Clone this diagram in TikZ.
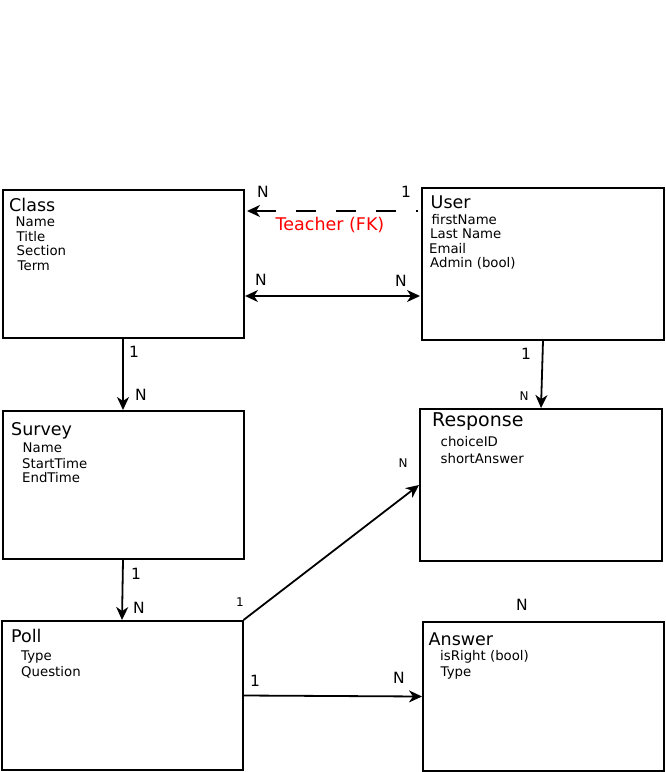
\documentclass[tikz,border=0pt]{standalone}
\usepackage{fontspec}
\setmainfont{DejaVu Sans}
\usetikzlibrary{arrows.meta,calc}

\begin{document}
\begin{tikzpicture}[x=1pt, y=-1pt,
	>={Stealth[length=13pt,width=12pt,inset=4pt]},
	entity/.style={draw, line width=2pt, rectangle, inner sep=0pt},
	title/.style={anchor=base west, inner sep=0pt, font=\fontsize{17.5}{17.5}\selectfont},
	attr/.style={anchor=base west, inner sep=0pt, font=\fontsize{13.3}{13.3}\selectfont},
	card/.style={inner sep=0pt, font=\fontsize{15.5}{15.5}\selectfont},
	smallcard/.style={inner sep=0pt, font=\fontsize{12}{12}\selectfont},
	link/.style={line width=1.8pt, ->},
	fk/.style={link, dash pattern=on 20pt off 20pt, dash phase=18pt}]
	\useasboundingbox (0,0) rectangle (665,772);

	% tables
	\node[entity, minimum width=241pt, minimum height=148pt] (class) at (123,264) {};
	\node[entity, minimum width=242pt, minimum height=152pt] (user) at (543,264) {};
	\node[entity, minimum width=241pt, minimum height=148pt] (survey) at (123,485) {};
	\node[entity, minimum width=242pt, minimum height=152pt] (response) at (541,485) {};
	\node[entity, minimum width=241pt, minimum height=149pt] (poll) at (122,695.5) {};
	\node[entity, minimum width=241pt, minimum height=149pt] (answer) at (543.5,696.5) {};

	% Class
	\node[title] (class-t) at (9,211.5) {Class};
	\node[attr] (class-a1) at (15.5,226.5) {Name};
	\node[attr] (class-a2) at (16.5,241.5) {Title};
	\node[attr] (class-a3) at (16.5,255.5) {Section};
	\node[attr] (class-a4) at (17.5,270) {Term};

	% User
	\node[title] (user-t) at (430.5,208.5) {User};
	\node[attr] (user-a1) at (431.5,224) {firstName};
	\node[attr] (user-a2) at (430,238.5) {Last Name};
	\node[attr] (user-a3) at (429,253) {Email};
	\node[attr] (user-a4) at (430,267.5) {Admin (bool)};

	% Survey
	\node[title] (survey-t) at (11,435) {Survey};
	\node[attr] (survey-a1) at (22.5,452.5) {Name};
	\node[attr] (survey-a2) at (22,468) {StartTime};
	\node[attr] (survey-a3) at (22,482.5) {EndTime};

	% Response
	\node[title, font=\fontsize{19}{19}\selectfont] (response-t) at (432,426) {Response};
	\node[attr] (response-a1) at (440.5,446.5) {choiceID};
	\node[attr] (response-a2) at (440.5,463) {shortAnswer};

	% Poll
	\node[title] (poll-t) at (11,642) {Poll};
	\node[attr] (poll-a1) at (21,660) {Type};
	\node[attr] (poll-a2) at (21,676.5) {Question};

	% Answer
	\node[title] (answer-t) at (428.5,645) {Answer};
	\node[attr] (answer-a1) at (440,660) {isRight (bool)};
	\node[attr] (answer-a2) at (440.5,676) {Type};

	% relations
	\draw[fk] ($(user.north west)+(-3,24)$) -- ($(class.north east)+(2.5,22)$);
	\node[card, text=red, anchor=base west, font=\fontsize{17.5}{17.5}\selectfont] (teacher) at (275.5,230) {Teacher (FK)};
	\node[card] (fk-n) at (263,192) {N};
	\node[card] (fk-1) at (406,192) {1};

	\draw[link, <->] ($(class.east)+(0.5,32)$) -- ($(user.west)+(-1,32)$);
	\node[card] (cu-n1) at (261,280) {N};
	\node[card] (cu-n2) at (401,281) {N};

	\draw[link] (class.south) -- (survey.north);
	\node[card] (cs-1) at (134,352) {1};
	\node[card] (cs-n) at (141,395) {N};

	\draw[link] (user.south) -- (response.north);
	\node[card] (ur-1) at (526,354) {1};
	\node[smallcard] (ur-n) at (524,396) {N};

	\draw[link] (survey.south) -- (poll.north);
	\node[card] (sp-1) at (136,574) {1};
	\node[card] (sp-n) at (139,608) {N};

	\draw[link] (poll.north east) -- (response.west);
	\node[smallcard] (pr-1) at (240,602) {1};
	\node[smallcard] (pr-n) at (403,463) {N};

	\draw[link] (poll.east) -- (answer.west);
	\node[card] (pa-1) at (255,681) {1};
	\node[card] (pa-n) at (399,678) {N};

	\node[card] (ans-n) at (522,605) {N};
\end{tikzpicture}
\end{document}
